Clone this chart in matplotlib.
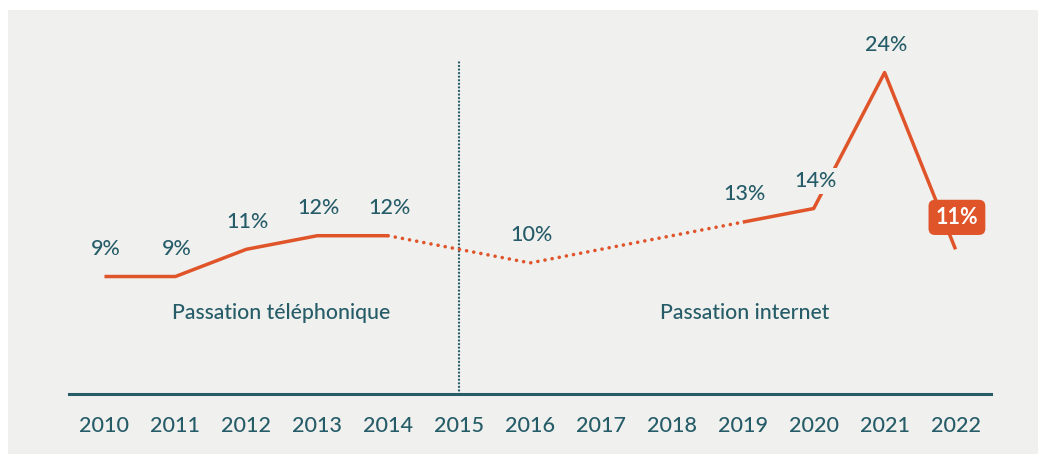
import matplotlib.pyplot as plt
from matplotlib.patches import Rectangle

# données
years = [2010, 2011, 2012, 2013, 2014, 2015, 2016, 2017, 2018, 2019, 2020, 2021, 2022]
point_years = [2010, 2011, 2012, 2013, 2014, 2016, 2019, 2020, 2021, 2022]
values = [9, 9, 11, 12, 12, 10, 13, 14, 24, 11]
labels = ['9%', '9%', '11%', '12%', '12%', '10%', '13%', '14%', '24%', '11%']
mode_labels = ['Passation téléphonique', 'Passation internet']

orange = '#e0542a'
teal = '#255c68'
bg = '#f0f0ee'

plt.rcParams['font.family'] = ['Lato', 'DejaVu Sans']

fig = plt.figure(figsize=(10.38, 4.58), dpi=100)
fig.patch.set_facecolor('white')
fig.patches.append(Rectangle((8 / 1038, 1 - 454 / 458), 1, 444 / 458,
                             transform=fig.transFigure, facecolor=bg,
                             edgecolor='none', zorder=-10))

ax = fig.add_axes([69 / 1038, 1 - 394 / 458, 922 / 1038, 384 / 458])
ax.set_facecolor('none')
ax.set_xlim(2009.5, 2022.5)
ax.set_ylim(0.36, 28.6)

# segments : téléphone (plein), transition (pointillés), internet (plein)
i14 = point_years.index(2014)
i19 = point_years.index(2019)
ax.plot(point_years[:i14 + 1], values[:i14 + 1], color=orange, lw=2.5,
        solid_capstyle='butt', zorder=3)
ax.plot(point_years[i14:i19 + 1], values[i14:i19 + 1], color=orange, lw=2.6,
        linestyle=(0, (0.01, 2.0)), dash_capstyle='round', zorder=3)
ax.plot(point_years[i19:], values[i19:], color=orange, lw=2.5,
        solid_capstyle='butt', zorder=3)

# étiquettes
for x, y, lab in zip(point_years[:-1], values[:-1], labels[:-1]):
    ax.annotate(lab, (x, y), xytext=(1, 20), textcoords='offset points',
                ha='center', va='center', fontsize=15.5, color=teal,
                fontweight='medium', zorder=5,
                bbox=dict(boxstyle='square,pad=0.15', facecolor=bg, edgecolor='none'))
ax.annotate(labels[-1], (point_years[-1], values[-1]), xytext=(1, 23),
            textcoords='offset points', ha='center', va='center',
            fontsize=15.5, color='white', fontweight='bold', zorder=5,
            bbox=dict(boxstyle='round,pad=0.33,rounding_size=0.3',
                      facecolor=orange, edgecolor='none'))

# séparation 2015
ax.axvline(2015, ymin=0, ymax=0.865, color=teal, lw=1.7,
           linestyle=(0, (0.01, 1.5)), dash_capstyle='round', zorder=2)

ax.text(0.23, 0.211, mode_labels[0], transform=ax.transAxes, ha='center',
        va='center', fontsize=15.2, color=teal, fontweight='medium')
ax.text(0.733, 0.211, mode_labels[1], transform=ax.transAxes, ha='center',
        va='center', fontsize=15.2, color=teal, fontweight='medium')

# axes
for s in ['top', 'right', 'left']:
    ax.spines[s].set_visible(False)
ax.spines['bottom'].set_color(teal)
ax.spines['bottom'].set_linewidth(2.2)
ax.set_yticks([])
ax.set_xticks(years)
ax.set_xticklabels([str(y) for y in years], fontweight='medium')
ax.tick_params(axis='x', length=0, pad=16, labelsize=15.5, labelcolor=teal)

plt.savefig('out.png', dpi=100, facecolor='white')
